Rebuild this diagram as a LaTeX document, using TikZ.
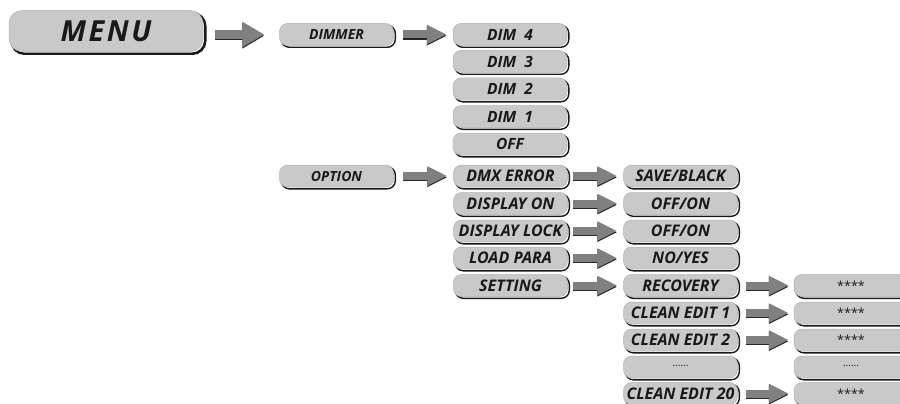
\documentclass[tikz,border=0pt]{standalone}
\usepackage{fontspec}
\setmainfont{Open Sans}
\usetikzlibrary{arrows.meta}
\newcommand\fatconn[3][]{\draw[fshadow,#1] #2 -- #3; \draw[farrow,#1] #2 -- #3;}
\begin{document}
\begin{tikzpicture}[x=1pt,y=-1pt,
  box/.style={rounded corners=8pt, fill=gray!42, draw=gray!60, line width=0.5pt,
    minimum height=22pt, minimum width=114pt, inner sep=0pt, text=black!90,
    font=\bfseries\itshape\fontsize{16}{16}\selectfont,
    preaction={draw=black!90, line width=1.4pt, fill=none,
      transform canvas={xshift=1.8pt,yshift=-1.8pt}}},
  smallbox/.style={box, font=\bfseries\itshape\fontsize{14}{14}\selectfont},
  dimbox/.style={box, font=\bfseries\itshape\fontsize{15.5}{15.5}\selectfont},
  starbox/.style={box, font=\fontsize{12.5}{12.5}\selectfont},
  menubox/.style={box, rounded corners=13pt, minimum width=194pt, minimum height=41pt,
    font=\bfseries\itshape\fontsize{29}{29}\selectfont\addfontfeature{LetterSpace=9},
    preaction={draw=black!90, line width=2pt, fill=none,
      transform canvas={xshift=2.5pt,yshift=-2.5pt}}},
  farrow/.style={draw=black!50, line width=8pt, -{Triangle[length=20pt,width=18pt]}},
  fshadow/.style={draw=black!85, line width=8pt, -{Triangle[length=20pt,width=18pt]},
    transform canvas={yshift=-1.3pt}},
  bigarrow/.style={line width=9pt, -{Triangle[length=22pt,width=24pt]}}
]
\useasboundingbox (0,0) rectangle (900,404);
% column 1
\node[menubox] (menu) at (106,31) {MENU};
% column 2
\node[smallbox] (dimmer) at (336.5,34.5) {DIMMER};
\node[smallbox] (option) at (336.5,176) {OPTION};
% dim column
\node[dimbox] (dim4) at (510,34.5) {DIM\ \ 4};
\node[dimbox] (dim3) at (510,61.5) {DIM\ \ 3};
\node[dimbox] (dim2) at (510,89) {DIM\ \ 2};
\node[dimbox] (dim1) at (510,116.5) {DIM\ \ 1};
\node[dimbox] (off)  at (510,144) {OFF};
% option column
\node[box] (dmx)  at (510.5,176) {DMX ERROR};
\node[box] (don)  at (510.5,203.5) {DISPLAY ON};
\node[box] (dlock) at (510.5,231) {DISPLAY LOCK};
\node[box] (load) at (510.5,258) {LOAD PARA};
\node[box] (set)  at (510.5,285.5) {SETTING};
% values column
\node[box] (save) at (680.5,176) {SAVE/BLACK};
\node[box] (offon1) at (680.5,203.5) {OFF/ON};
\node[box] (offon2) at (680.5,231) {OFF/ON};
\node[box] (noyes) at (680.5,258) {NO/YES};
\node[box] (rec) at (680.5,285.5) {RECOVERY};
\node[box] (ce1) at (680.5,313) {CLEAN EDIT 1};
\node[box] (ce2) at (680.5,340) {CLEAN EDIT 2};
\node[starbox] (cedots) at (680.5,367) {\raisebox{2.5pt}{\fontsize{10}{10}\selectfont......}};
\node[box] (ce20) at (680.5,393.5) {CLEAN EDIT 20};
% stars column
\node[starbox] (s1) at (851,285.5) {****};
\node[starbox] (s2) at (851,313) {****};
\node[starbox] (s3) at (851,340) {****};
\node[starbox] (sdots) at (851,367) {\raisebox{2.5pt}{\fontsize{10}{10}\selectfont......}};
\node[starbox] (s20) at (851,393.5) {****};
% arrows
\fatconn[bigarrow, shorten <=12pt, shorten >=15pt]{(menu.east |- dimmer.west)}{(dimmer.west)}
\fatconn[shorten <=9pt, shorten >=6pt]{(dimmer.east)}{(dim4.west)}
\fatconn[shorten <=9pt, shorten >=6pt]{(option.east)}{(dmx.west)}
\fatconn[shorten <=5.5pt, shorten >=6pt]{(dmx.east)}{(save.west)}
\fatconn[shorten <=5.5pt, shorten >=6pt]{(don.east)}{(offon1.west)}
\fatconn[shorten <=5.5pt, shorten >=6pt]{(dlock.east)}{(offon2.west)}
\fatconn[shorten <=5.5pt, shorten >=6pt]{(load.east)}{(noyes.west)}
\fatconn[shorten <=5.5pt, shorten >=6pt]{(set.east)}{(rec.west)}
\fatconn[shorten <=8pt, shorten >=5pt]{(rec.east)}{(s1.west)}
\fatconn[shorten <=8pt, shorten >=5pt]{(ce1.east)}{(s2.west)}
\fatconn[shorten <=8pt, shorten >=5pt]{(ce2.east)}{(s3.west)}
\fatconn[shorten <=8pt, shorten >=5pt]{(ce20.east)}{(s20.west)}
\end{tikzpicture}
\end{document}
